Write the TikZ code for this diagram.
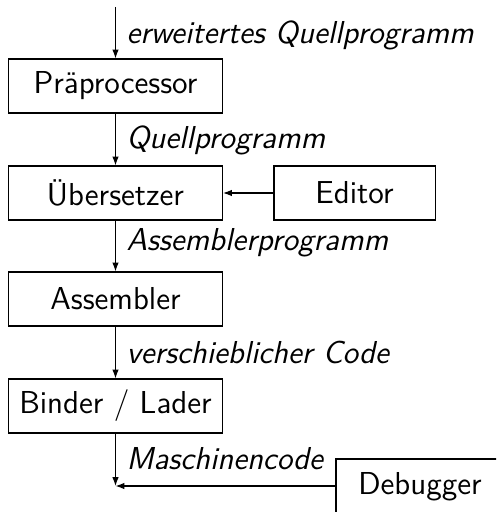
\documentclass[tikz,border=0pt]{standalone}
\usetikzlibrary{arrows.meta}
\begin{document}
\begin{tikzpicture}[x=0.375pt,y=-0.375pt,
  box/.style={draw,line width=0.4pt,minimum width=80.25pt,minimum height=20.25pt,inner sep=0pt,font=\sffamily\fontsize{11.9}{13}\selectfont},
  lbl/.style={anchor=west,inner sep=0pt,font=\sffamily\itshape\fontsize{11.9}{13}\selectfont},
  arr/.style={line width=0.4pt,-{Latex[length=3.3pt,width=2.4pt]}}]
\useasboundingbox (0,0) rectangle (496,512);
\clip (0,0) rectangle (496,512);
\node[box] (pre) at (115.5,86) {Präprocessor};
\node[box] (ueb) at (115.5,193) {Übersetzer};
\node[box,minimum width=60.4pt] (edi) at (354.5,193) {Editor};
\node[box] (asm) at (115.5,299) {Assembler};
\node[box] (bin) at (115.5,406) {Binder / Lader};
\node[box,minimum width=63pt,minimum height=21pt] (dbg) at (420,487) {Debugger};
\coordinate (top) at (115.5,7);
\coordinate (end) at (115.5,486);
\draw[arr] (top) -- (pre);
\draw[arr] (pre) -- (ueb);
\draw[arr] (edi) -- (ueb);
\draw[arr] (ueb) -- (asm);
\draw[arr] (asm) -- (bin);
\draw[arr] (bin) -- (end);
\draw[arr] (dbg.west |- end) -- (end);
\node[lbl] (l1) at (126,35) {erweitertes Quellprogramm};
\node[lbl] (l2) at (126,140) {Quellprogramm};
\node[lbl] (l3) at (126,243) {Assemblerprogramm};
\node[lbl] (l4) at (126,352) {verschieblicher Code};
\node[lbl] (l5) at (126,459) {Maschinencode};
\end{tikzpicture}
\end{document}
